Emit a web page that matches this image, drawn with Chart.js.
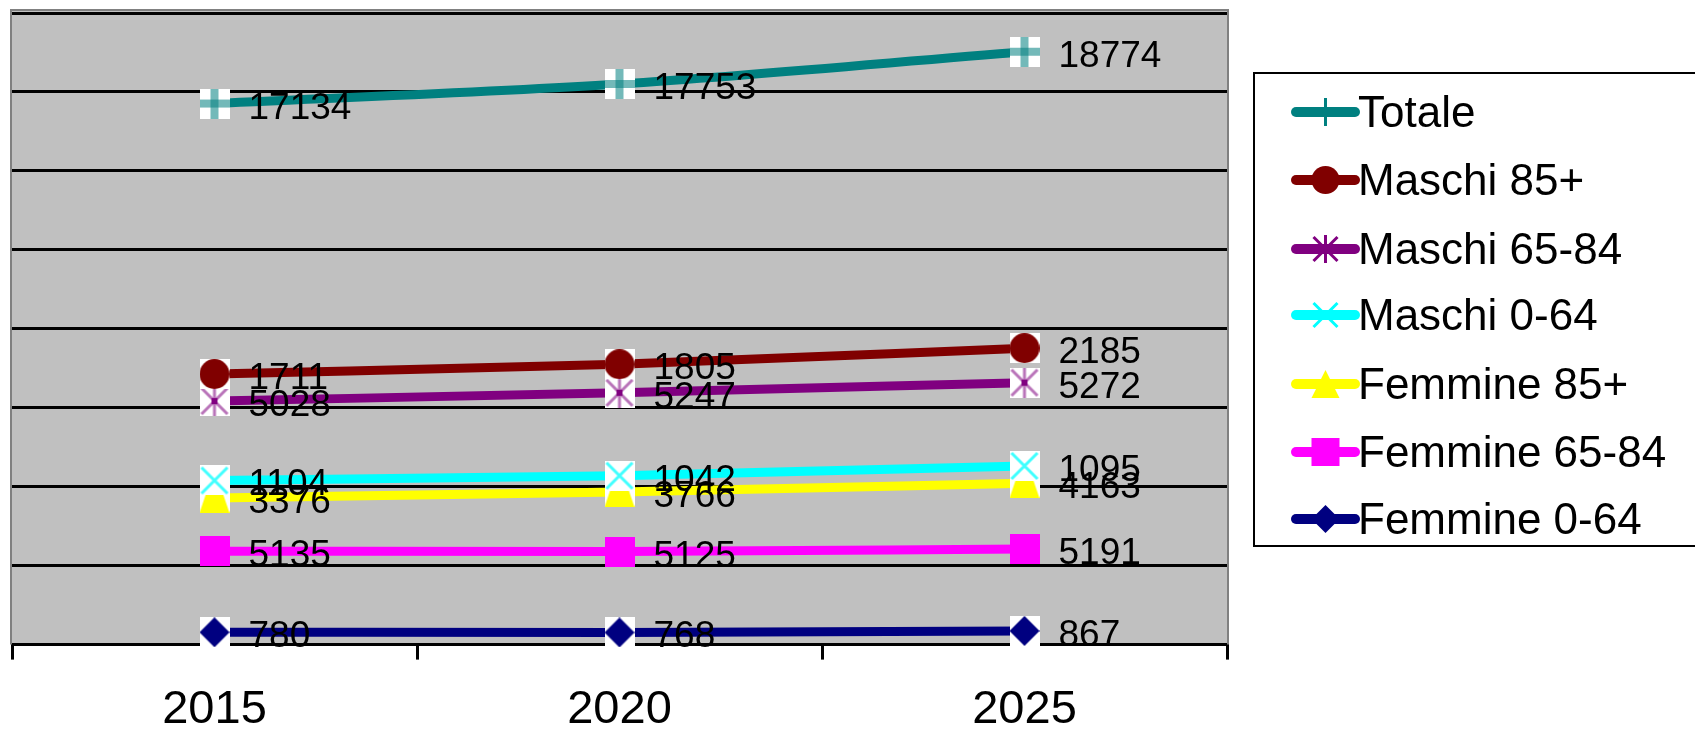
<!DOCTYPE html>
<html>
<head>
<meta charset="utf-8">
<script src="https://cdn.jsdelivr.net/npm/chart.js@4"></script>
<style>
  html, body { margin: 0; padding: 0; background: #fff; overflow: hidden; }
  #wrap { position: relative; width: 1695px; height: 730px; overflow: hidden; }
  #c { position: absolute; left: 0; top: 0; }
  #legend { position: absolute; left: 1253px; top: 72px; width: 470px; height: 471px;
            border: 2px solid #000; background: #fff; box-sizing: content-box; }
  .item { position: absolute; left: 0; height: 50px; display: flex; align-items: center; }
  .item canvas { position: absolute; left: 36px; top: 0; }
  .item span { position: absolute; left: 103px; font-family: "Liberation Sans", Arial, sans-serif;
               font-size: 44px; color: #000; white-space: nowrap; line-height: 50px; top: 0; }
</style>
</head>
<body>
<div id="wrap">
  <canvas id="c" width="1695" height="730"></canvas>
  <div id="legend"></div>
</div>
<script>
// ---- data ----
const years = ['2015', '2020', '2025'];
const seriesNames = ['Femmine 0-64', 'Femmine 65-84', 'Femmine 85+', 'Maschi 0-64', 'Maschi 65-84', 'Maschi 85+', 'Totale'];
const femmine064 = [780, 768, 867];
const femmine6584 = [5135, 5125, 5191];
const femmine85 = [3376, 3766, 4163];
const maschi064 = [1104, 1042, 1095];
const maschi6584 = [5028, 5247, 5272];
const maschi85 = [1711, 1805, 2185];
const totale = [17134, 17753, 18774];
const yMin = 0, yMax = 40000, yStep = 5000;

const seriesValues = [femmine064, femmine6584, femmine85, maschi064, maschi6584, maschi85, totale];
const seriesColors = ['#000080', '#FF00FF', '#FFFF00', '#00FFFF', '#800080', '#800000', '#008080'];
const seriesMarkers = ['diamond', 'square', 'triangle', 'x', 'asterisk', 'circle', 'plus'];

const FONT = '"Liberation Sans", Arial, sans-serif';

// ---- marker images ----
function drawMarker(ctx, kind, color, cx, cy, s, inPlot) {
  ctx.save();
  const h = s / 2;
  ctx.fillStyle = color;
  ctx.strokeStyle = color;
  ctx.lineCap = 'butt';
  if (kind === 'diamond') {
    ctx.beginPath();
    ctx.moveTo(cx, cy - h); ctx.lineTo(cx + h, cy); ctx.lineTo(cx, cy + h); ctx.lineTo(cx - h, cy);
    ctx.closePath(); ctx.fill();
  } else if (kind === 'square') {
    ctx.fillRect(cx - h, cy - h, s, s);
  } else if (kind === 'triangle') {
    ctx.beginPath();
    if (inPlot) {
      ctx.moveTo(cx, cy - h - 14); ctx.lineTo(cx + h, cy + h); ctx.lineTo(cx - h, cy + h);
    } else {
      ctx.moveTo(cx, cy - h); ctx.lineTo(cx + h, cy + h); ctx.lineTo(cx - h, cy + h);
    }
    ctx.closePath(); ctx.fill();
  } else if (kind === 'circle') {
    ctx.beginPath(); ctx.arc(cx, cy, h, 0, Math.PI * 2); ctx.fill();
  } else if (kind === 'x') {
    ctx.lineWidth = 3;
    if (inPlot) ctx.globalAlpha = 0.75;
    ctx.beginPath();
    ctx.moveTo(cx - h + 2, cy - h + 2); ctx.lineTo(cx + h - 2, cy + h - 2);
    ctx.moveTo(cx + h - 2, cy - h + 2); ctx.lineTo(cx - h + 2, cy + h - 2);
    ctx.stroke();
  } else if (kind === 'asterisk') {
    ctx.lineWidth = 3;
    if (inPlot) ctx.globalAlpha = 0.55;
    ctx.beginPath();
    ctx.moveTo(cx - h + 2, cy - h + 2); ctx.lineTo(cx + h - 2, cy + h - 2);
    ctx.moveTo(cx + h - 2, cy - h + 2); ctx.lineTo(cx - h + 2, cy + h - 2);
    ctx.moveTo(cx, cy - h); ctx.lineTo(cx, cy + h);
    ctx.stroke();
    if (inPlot) {
      ctx.globalAlpha = 1;
      ctx.fillRect(cx - 3, cy - 3, 6, 6);
    }
  } else if (kind === 'plus') {
    if (inPlot) {
      ctx.globalAlpha = 0.55;
      ctx.fillRect(cx - h, cy - 4, s, 8);
      ctx.fillRect(cx - 4, cy - h, 8, s);
    } else {
      ctx.fillRect(cx - 1.5, cy - h, 3, s);
    }
  }
  ctx.restore();
}

function makePointImage(kind, color) {
  const c = document.createElement('canvas');
  c.width = 30; c.height = 30;
  const ctx = c.getContext('2d');
  if (kind !== 'square') {
    ctx.fillStyle = '#fff';
    ctx.fillRect(0, 0, 30, 30);
  }
  ctx.save();
  ctx.beginPath(); ctx.rect(0, 0, 30, 30); ctx.clip();
  drawMarker(ctx, kind, color, 15, 15, 30, true);
  ctx.restore();
  return c;
}

// ---- plugins ----
const plotBg = {
  id: 'plotBg',
  beforeDraw(chart) {
    const {ctx, chartArea: a} = chart;
    ctx.save();
    ctx.fillStyle = '#C0C0C0';
    ctx.fillRect(a.left, a.top - 3, a.right - a.left, a.bottom - a.top + 3);
    ctx.restore();
  },
  beforeDatasetsDraw(chart) {
    const {ctx, chartArea: a} = chart;
    ctx.save();
    ctx.strokeStyle = '#808080';
    ctx.lineWidth = 2;
    ctx.beginPath();
    ctx.moveTo(a.left - 1, a.bottom);
    ctx.lineTo(a.left - 1, a.top - 3);
    ctx.lineTo(a.right + 1, a.top - 3);
    ctx.lineTo(a.right + 1, a.bottom);
    ctx.stroke();
    ctx.restore();
  }
};

const orderedDraw = {
  id: 'orderedDraw',
  beforeDatasetsDraw(chart) {
    const metas = chart.getSortedVisibleDatasetMetas();
    // draw from bottom of the stack to the top so that upper markers cover lower ones
    for (const meta of metas) meta.controller.draw();
    // value labels
    const ctx = chart.ctx;
    ctx.save();
    ctx.fillStyle = '#000';
    ctx.font = '37px ' + FONT;
    ctx.textAlign = 'left';
    ctx.textBaseline = 'alphabetic';
    for (const meta of metas) {
      const vals = chart.data.datasets[meta.index].data;
      meta.data.forEach((pt, i) => {
        ctx.fillText(String(vals[i]), pt.x + 34, pt.y + 15);
      });
    }
    ctx.restore();
    return false;
  }
};

// ---- chart ----
const datasets = seriesNames.map((name, i) => ({
  label: name,
  data: seriesValues[i],
  borderColor: seriesColors[i],
  backgroundColor: seriesColors[i],
  borderWidth: 9,
  tension: 0.25,
  cubicInterpolationMode: 'monotone',
  fill: false,
  pointStyle: makePointImage(seriesMarkers[i], seriesColors[i]),
  pointRadius: 15,
  pointHoverRadius: 15
}));

Chart.defaults.font.family = FONT;

new Chart(document.getElementById('c'), {
  type: 'line',
  data: { labels: years, datasets },
  plugins: [plotBg, orderedDraw],
  options: {
    responsive: false,
    animation: false,
    devicePixelRatio: 1,
    layout: { autoPadding: false, padding: { left: 12, top: 13, right: 468, bottom: -30 } },
    plugins: { legend: { display: false }, tooltip: { enabled: false } },
    scales: {
      x: {
        offset: true,
        grid: { display: true, drawOnChartArea: false, drawTicks: true, tickLength: 15,
                color: '#000', lineWidth: 3, offset: true },
        border: { display: true, color: '#000', width: 3 },
        ticks: { color: '#000', font: { size: 47, family: FONT }, padding: 22, maxRotation: 0 }
      },
      y: {
        stacked: true,
        min: yMin, max: yMax,
        grid: { color: '#000', lineWidth: 3, drawTicks: false },
        border: { display: false },
        ticks: { display: false, stepSize: yStep }
      }
    }
  }
});

// ---- legend (top of stack first) ----
const legend = document.getElementById('legend');
const itemCenters = [38, 106, 175, 241, 310, 378, 445];
for (let k = 0; k < seriesNames.length; k++) {
  const i = seriesNames.length - 1 - k;
  const item = document.createElement('div');
  item.className = 'item';
  item.style.top = (itemCenters[k] - 25) + 'px';
  const cv = document.createElement('canvas');
  cv.width = 70; cv.height = 50;
  const g = cv.getContext('2d');
  g.strokeStyle = seriesColors[i];
  g.lineWidth = 10;
  g.lineCap = 'round';
  g.beginPath(); g.moveTo(5, 25); g.lineTo(64, 25); g.stroke();
  drawMarker(g, seriesMarkers[i], seriesColors[i], 34.5, 25, 28, false);
  const sp = document.createElement('span');
  sp.textContent = seriesNames[i];
  item.appendChild(cv);
  item.appendChild(sp);
  legend.appendChild(item);
}
</script>
</body>
</html>
